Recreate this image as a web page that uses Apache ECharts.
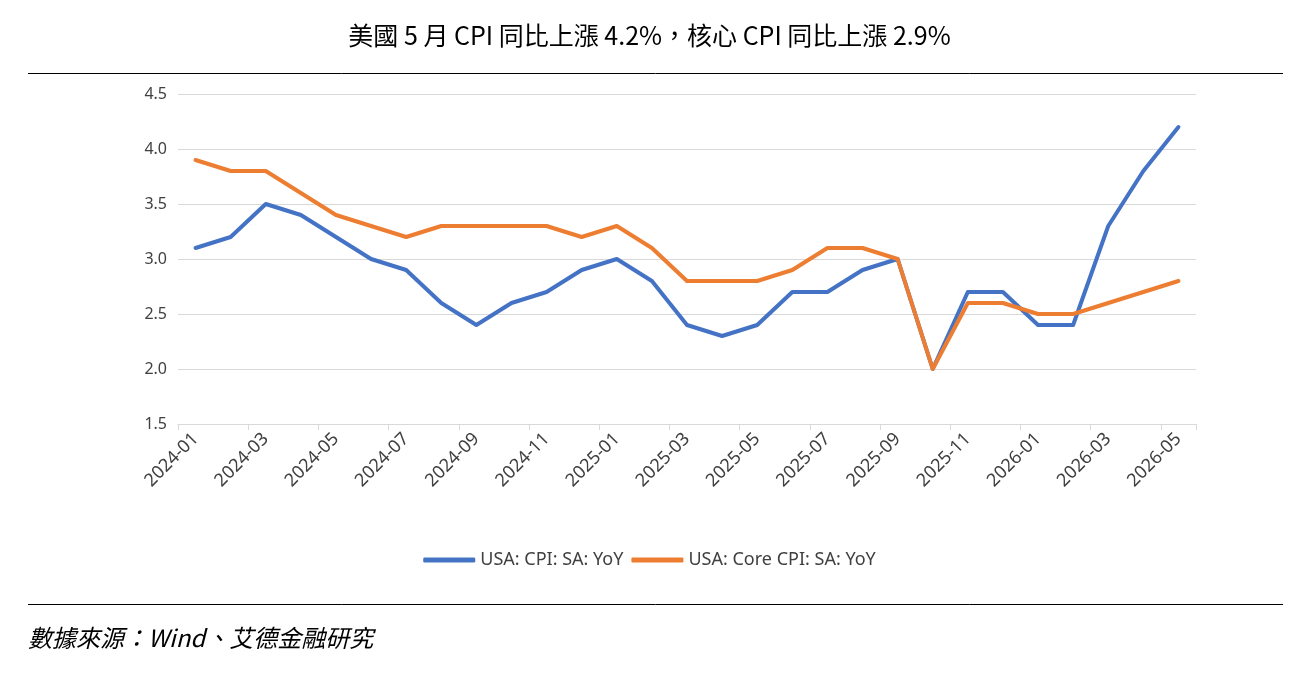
<!DOCTYPE html>
<html>
<head>
<meta charset="utf-8">
<script src="https://cdn.jsdelivr.net/npm/echarts@6/dist/echarts.min.js"></script>
<style>
html,body{margin:0;padding:0;background:#fff;}
#chart{width:1299px;height:680px;}
</style>
</head>
<body>
<div id="chart"></div>
<script>
const categories = [
  '2024-01','2024-02','2024-03','2024-04','2024-05','2024-06','2024-07','2024-08','2024-09','2024-10','2024-11','2024-12',
  '2025-01','2025-02','2025-03','2025-04','2025-05','2025-06','2025-07','2025-08','2025-09','2025-10','2025-11','2025-12',
  '2026-01','2026-02','2026-03','2026-04','2026-05'
];
const cpiYoY = [3.1,3.2,3.5,3.4,3.2,3.0,2.9,2.6,2.4,2.6,2.7,2.9,
  3.0,2.8,2.4,2.3,2.4,2.7,2.7,2.9,3.0,2.0,2.7,2.7,
  2.4,2.4,3.3,3.8,4.2];
const coreCpiYoY = [3.9,3.8,3.8,3.6,3.4,3.3,3.2,3.3,3.3,3.3,3.3,3.2,
  3.3,3.1,2.8,2.8,2.8,2.9,3.1,3.1,3.0,2.0,2.6,2.6,
  2.5,2.5,2.6,2.7,2.8];
const seriesNames = ['USA: CPI: SA: YoY','USA: Core CPI: SA: YoY'];
const titleText = '美國 5 月 CPI 同比上漲 4.2%，核心 CPI 同比上漲 2.9%';
const sourceText = '數據來源：Wind、艾德金融研究';

const chart = echarts.init(document.getElementById('chart'));
chart.setOption({
  backgroundColor: '#fff',
  animation: false,
  title: {
    text: titleText,
    left: 'center',
    top: 18,
    textStyle: {fontFamily: 'Noto Sans CJK TC', fontSize: 25, fontWeight: 'normal', color: '#000'}
  },
  graphic: [
    {type: 'line', shape: {x1: 28, y1: 73.5, x2: 1283, y2: 73.5}, style: {stroke: '#000', lineWidth: 1}},
    {type: 'line', shape: {x1: 28, y1: 604.5, x2: 1283, y2: 604.5}, style: {stroke: '#000', lineWidth: 1}},
    {type: 'text', left: 28, top: 626, style: {text: sourceText, font: 'italic 24px "Noto Sans CJK TC"', fill: '#000'}}
  ],
  legend: {
    data: seriesNames,
    left: 'center',
    top: 546,
    itemWidth: 52,
    itemHeight: 5,
    itemGap: 8,
    icon: 'roundRect',
    textStyle: {fontFamily: 'Noto Sans', fontSize: 18, color: '#404040'}
  },
  grid: {left: 178, right: 103, top: 94, bottom: 256, containLabel: false},
  xAxis: {
    type: 'category',
    data: categories,
    boundaryGap: true,
    axisLine: {lineStyle: {color: '#d9d9d9', width: 1}},
    axisTick: {show: true, interval: 1, length: 6, lineStyle: {color: '#d9d9d9'}},
    axisLabel: {interval: 1, rotate: 45, fontFamily: 'Noto Sans', fontSize: 18, color: '#404040', margin: 12}
  },
  yAxis: {
    type: 'value',
    min: 1.5,
    max: 4.5,
    interval: 0.5,
    axisLine: {show: false},
    axisTick: {show: false},
    axisLabel: {formatter: v => v.toFixed(1), fontFamily: 'Noto Sans', fontSize: 16, color: '#404040', margin: 11},
    splitLine: {lineStyle: {color: '#d9d9d9', width: 1}}
  },
  series: [
    {name: seriesNames[0], type: 'line', data: cpiYoY, symbol: 'none', lineStyle: {color: '#4472c4', width: 4, cap: 'round', join: 'round'}, itemStyle: {color: '#4472c4'}},
    {name: seriesNames[1], type: 'line', data: coreCpiYoY, symbol: 'none', lineStyle: {color: '#ed7d31', width: 4, cap: 'round', join: 'round'}, itemStyle: {color: '#ed7d31'}}
  ]
});
</script>
</body>
</html>
